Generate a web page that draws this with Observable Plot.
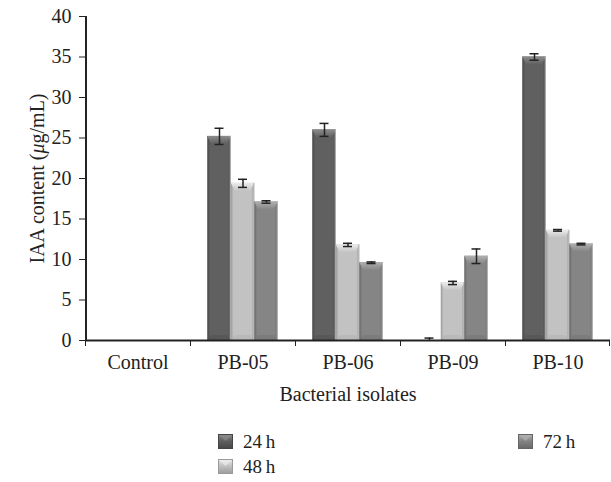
<!DOCTYPE html>
<html><head><meta charset="utf-8">
<script src="https://cdn.jsdelivr.net/npm/d3@7"></script>
<script src="https://cdn.jsdelivr.net/npm/@observablehq/plot@0.6"></script>
<style>
body{margin:0;background:#fff;font-family:"Liberation Serif","Times New Roman",serif;}
#wrap{position:relative;width:611px;height:482px;overflow:hidden;}
.leg{position:absolute;display:flex;align-items:center;font-size:19px;color:#222;line-height:1;}
.leg svg{margin-right:10px;display:block}
</style></head><body><div id="wrap"><div id="chart"></div></div>
<script>
const categories = ["Control", "PB-05", "PB-06", "PB-09", "PB-10"];
const seriesNames = ["24 h", "48 h", "72 h"];
const mean24 = [0, 25.2, 26.0, 0, 35.0];
const err24  = [0, 1.0, 0.8, 0.3, 0.4];
const mean48 = [0, 19.4, 11.8, 7.1, 13.6];
const err48  = [0, 0.5, 0.2, 0.2, 0.1];
const mean72 = [0, 17.1, 9.6, 10.4, 11.9];
const err72  = [0, 0.15, 0.1, 0.9, 0.1];
const yTicks = [0, 5, 10, 15, 20, 25, 30, 35, 40];
const yLabel = "IAA content (μg/mL)";
const xLabel = "Bacterial isolates";

const means = [mean24, mean48, mean72];
const errs = [err24, err48, err72];
const rows = [];
seriesNames.forEach((s, i) => categories.forEach((c, j) => rows.push({category: c, series: s, si: i, value: means[i][j], err: errs[i][j]})));

const W = 611, H = 410, ML = 85, MR = 1, MT = 16, MB = 70;
const step = (W - ML - MR) / categories.length;
const barW = 23.5;
const groupStart = (step - barW * 3) / 2;

const styles = [
  {edge: "#454545", mid: "#606060", top: "#8c8c8c", bot: "#4a4a4a"},
  {edge: "#9a9a9a", mid: "#c2c2c2", top: "#ececec", bot: "#a8a8a8"},
  {edge: "#656565", mid: "#858585", top: "#b0b0b0", bot: "#6c6c6c"}
];

const marks = [];
seriesNames.forEach((s, i) => {
  const data = rows.filter(d => d.si === i);
  const left = groupStart + barW * i;
  marks.push(Plot.barY(data, {
    x: "category", y: "value",
    insetLeft: left, insetRight: step - left - barW,
    fill: `url(#bargrad${i})`
  }));
});
seriesNames.forEach((s, i) => {
  const data = rows.filter(d => d.si === i && d.err > 0);
  const lower = data.filter(d => d.value - d.err > 0);
  const left = groupStart + barW * i;
  const center = left + barW / 2;
  const capOpts = {x: "category", insetLeft: center - 4.5, insetRight: step - center - 4.5, stroke: "#222", strokeWidth: 1.5};
  marks.push(Plot.ruleX(data, {x: "category", y1: d => Math.max(0, d.value - d.err), y2: d => d.value + d.err, dx: center - step / 2, stroke: "#222", strokeWidth: 1.5}));
  marks.push(Plot.tickY(data, {...capOpts, y: d => d.value + d.err}));
  marks.push(Plot.tickY(lower, {...capOpts, y: d => d.value - d.err}));
});

const plot = Plot.plot({
  width: W, height: H,
  marginLeft: ML, marginRight: MR, marginTop: MT, marginBottom: MB,
  style: {fontFamily: "'Liberation Serif','Times New Roman',serif", fontSize: "20px", color: "#222", background: "#fff"},
  x: {type: "band", domain: categories, padding: 0, axis: null},
  y: {domain: [0, 40], axis: null},
  marks: [
    ...marks,
    Plot.ruleY([0], {stroke: "#222", strokeWidth: 2}),
    Plot.ruleX([categories[0]], {x: d => d, dx: -step / 2 + 0.5, y1: 0, y2: 40, stroke: "#222", strokeWidth: 2}),
    Plot.axisY({ticks: yTicks, tickSize: 6, tickPadding: 8, label: yLabel, labelAnchor: "center", labelArrow: "none", labelOffset: 56, stroke: "#222"}),
    Plot.axisX({tickSize: 0, tickPadding: 14, label: xLabel, labelAnchor: "center", labelArrow: "none", labelOffset: 60}),
    Plot.axisX({tickSize: 6, tickFormat: () => "", dx: -step / 2, label: null, stroke: "#222"}),
    Plot.axisX({ticks: [categories[categories.length - 1]], tickSize: 6, tickFormat: () => "", dx: step / 2 - 1, label: null, stroke: "#222"})
  ]
});

// gradients for beveled bars
const svg = d3.select(plot);
const defs = svg.insert("defs", ":first-child");
styles.forEach((st, i) => {
  const g = defs.append("linearGradient").attr("id", `bargrad${i}`).attr("x1", 0).attr("x2", 1).attr("y1", 0).attr("y2", 0);
  [[0, st.edge], [0.12, st.mid], [0.5, st.mid], [0.88, st.mid], [1, st.edge]].forEach(([o, c]) => g.append("stop").attr("offset", o).attr("stop-color", c));
  const t = defs.append("linearGradient").attr("id", `topgrad${i}`).attr("x1", 0).attr("x2", 0).attr("y1", 0).attr("y2", 1);
  t.append("stop").attr("offset", 0).attr("stop-color", st.top);
  t.append("stop").attr("offset", 1).attr("stop-color", st.mid);
});
svg.selectAll("g[aria-label='bar']").each(function(_, i) {
  const g = d3.select(this);
  const st = styles[i];
  g.selectAll("rect").each(function() {
    const r = d3.select(this);
    const x = +r.attr("x"), y = +r.attr("y"), w = +r.attr("width"), h = +r.attr("height");
    if (!(h > 10)) return;
    const b = 4, d = 8;
    g.append("polygon").attr("points", `${x},${y} ${x + w},${y} ${x + w - b},${y + d} ${x + b},${y + d}`).attr("fill", `url(#topgrad${i})`);
    g.append("polygon").attr("points", `${x},${y + h} ${x + w},${y + h} ${x + w - b},${y + h - 5} ${x + b},${y + h - 5}`).attr("fill", st.bot).attr("opacity", 0.35);
    g.append("line").attr("x1", x + w - 0.5).attr("x2", x + w - 0.5).attr("y1", y).attr("y2", y + h).attr("stroke", "#bdbdbd").attr("stroke-width", 1);
  });
});
// italic mu in y label
svg.selectAll("text").each(function() {
  const t = d3.select(this);
  if (t.text() === yLabel) {
    t.text("");
    t.append("tspan").text("IAA content (");
    t.append("tspan").attr("font-style", "italic").text("μ");
    t.append("tspan").text("g/mL)");
  }
});

const wrap = document.getElementById("wrap");
document.getElementById("chart").appendChild(plot);

// legend
const legendItems = [
  {name: "24\u2009h", i: 0, left: 218, top: 432},
  {name: "48\u2009h", i: 1, left: 218, top: 457},
  {name: "72\u2009h", i: 2, left: 518, top: 432}
];
legendItems.forEach(it => {
  const div = document.createElement("div");
  div.className = "leg";
  div.style.left = it.left + "px";
  div.style.top = it.top + "px";
  const st = styles[it.i];
  div.innerHTML = `<svg width="15" height="15"><defs><linearGradient id="lg${it.i}" x1="0" x2="0" y1="0" y2="1"><stop offset="0" stop-color="${st.top}"/><stop offset="0.45" stop-color="${st.mid}"/><stop offset="1" stop-color="${st.edge}"/></linearGradient></defs><rect x="0" y="0" width="15" height="15" fill="url(#lg${it.i})"/><polygon points="0,0 15,0 7.5,7" fill="${st.top}" opacity="0.7"/><rect x="0.5" y="0.5" width="14" height="14" fill="none" stroke="${st.edge}"/></svg><span>${it.name}</span>`;
  wrap.appendChild(div);
});
</script></body></html>
